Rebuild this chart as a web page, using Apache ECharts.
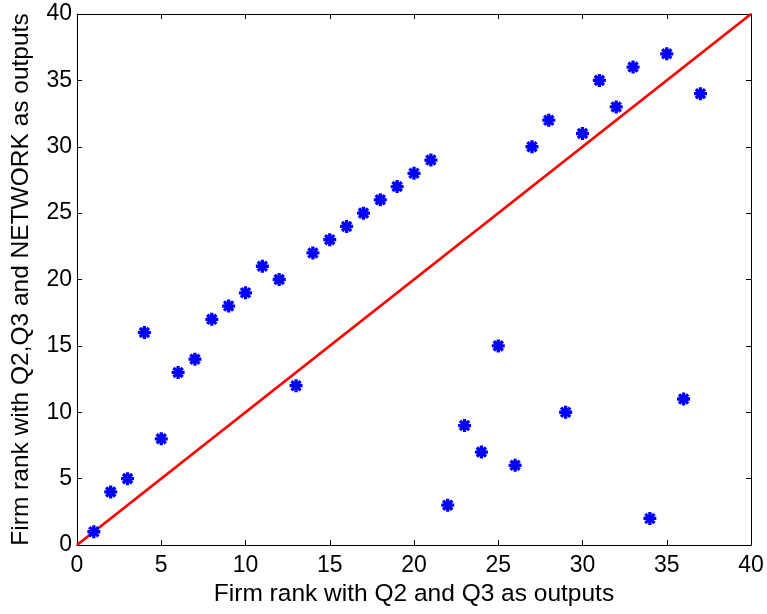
<!DOCTYPE html>
<html>
<head>
<meta charset="utf-8">
<script src="https://cdn.jsdelivr.net/npm/echarts@6/dist/echarts.min.js"></script>
<style>
  html, body { margin: 0; padding: 0; background: #fff; }
  #chart { width: 767px; height: 614px; }
</style>
</head>
<body>
<div id="chart"></div>
<script>
// rank without NETWORK (x) vs rank with NETWORK (y)
const rankQ2Q3 = [1, 2, 3, 4, 5, 6, 7, 8, 9, 10, 11, 12, 13, 14, 15, 16, 17, 18, 19, 20,
  21, 22, 23, 24, 25, 26, 27, 28, 29, 30, 31, 32, 33, 34, 35, 36, 37];
const rankNetwork = [1, 4, 5, 16, 8, 13, 14, 17, 18, 19, 21, 20, 12, 22, 23, 24, 25, 26, 27, 28,
  29, 3, 9, 7, 15, 6, 30, 32, 10, 31, 35, 33, 36, 2, 37, 11, 34];
const diagonal = [[0, 0], [40, 40]];

const FONT = 'Liberation Sans';
const asterisk = 'path://M10,0 L10,20 M0,10 L20,10 M2.93,2.93 L17.07,17.07 M2.93,17.07 L17.07,2.93';

const chart = echarts.init(document.getElementById('chart'));

function makeAxis(position, extra) {
  return Object.assign({
    type: 'value',
    position: position,
    min: 0,
    max: 40,
    interval: 5,
    splitLine: { show: false },
    axisLine: { show: true, onZero: false, lineStyle: { color: '#000', width: 1 } },
    axisTick: { show: true, inside: true, length: 5, lineStyle: { color: '#000' } },
    axisLabel: { show: false }
  }, extra || {});
}

const option = {
  animation: false,
  backgroundColor: '#fff',
  grid: { left: 77, top: 14, right: 16, bottom: 69 },
  xAxis: [
    makeAxis('bottom', {
      name: 'Firm rank with Q2 and Q3 as outputs',
      nameLocation: 'middle',
      nameGap: 36,
      nameTextStyle: { color: '#000', fontFamily: FONT, fontSize: 24.5 },
      axisLabel: { color: '#000', fontFamily: FONT, fontSize: 23, margin: 9 }
    }),
    makeAxis('top')
  ],
  yAxis: [
    makeAxis('left', {
      name: 'Firm rank with Q2,Q3 and NETWORK as outputs',
      nameLocation: 'middle',
      nameGap: 43,
      nameTextStyle: { color: '#000', fontFamily: FONT, fontSize: 24.5 },
      axisLabel: { color: '#000', fontFamily: FONT, fontSize: 23, margin: 5 }
    }),
    makeAxis('right')
  ],
  series: [
    {
      type: 'line',
      data: diagonal,
      symbol: 'none',
      lineStyle: { color: '#ff0000', width: 2.8 },
      z: 2
    },
    {
      type: 'scatter',
      data: rankQ2Q3.map((x, i) => [x, rankNetwork[i]]),
      symbol: asterisk,
      symbolSize: 13,
      itemStyle: { color: 'none', borderColor: '#0000ff', borderWidth: 3.3, opacity: 1 },
      z: 3
    }
  ]
};

chart.setOption(option);
</script>
</body>
</html>
